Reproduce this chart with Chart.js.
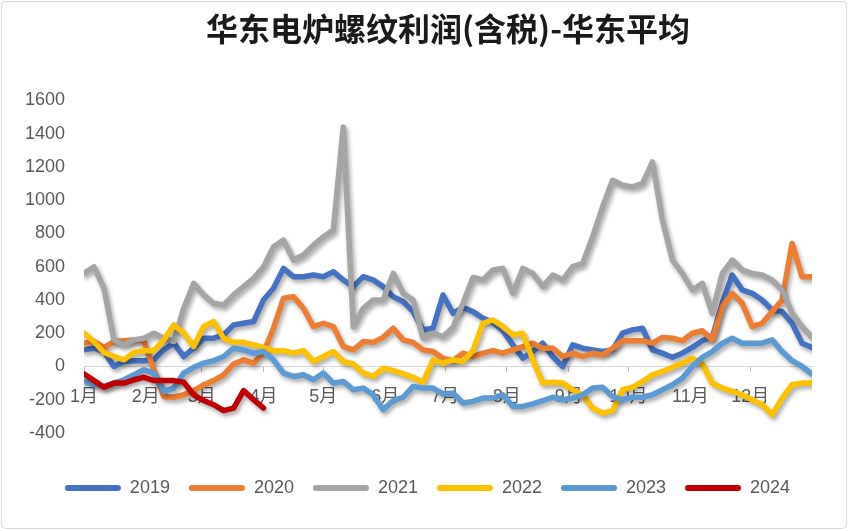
<!DOCTYPE html>
<html>
<head>
<meta charset="utf-8">
<script src="https://cdn.jsdelivr.net/npm/chart.js@4.4.1/dist/chart.umd.min.js"></script>
<style>
html,body{margin:0;padding:0;background:#fff;}
#wrap{width:849px;height:531px;}
</style>
</head>
<body>
<div id="wrap"><canvas id="c" width="849" height="531"></canvas></div>
<script>
const titleText = '华东电炉螺纹利润(含税)-华东平均';
const monthDays = [1, 32, 60, 91, 121, 152, 182, 213, 244, 274, 305, 335];
const monthLabels = ['1月','2月','3月','4月','5月','6月','7月','8月','9月','10月','11月','12月'];
const days = [1,6,11,16,21,26,31,36,41,46,51,56,61,66,71,76,81,86,91,96,101,106,111,116,121,126,131,136,141,146,151,156,161,166,171,176,181,186,191,196,201,206,211,216,221,226,231,236,241,246,251,256,261,266,271,276,281,286,291,296,301,306,311,316,321,326,331,336,341,346,351,356,361,366];
const yTicks = [-400, -200, 0, 200, 400, 600, 800, 1000, 1200, 1400, 1600];

const v2019 = [100,110,90,0,30,35,35,40,100,140,
  60,110,170,170,190,250,260,270,400,470,
  590,540,540,550,540,570,520,480,540,520,
  480,420,390,330,220,230,430,320,355,330,
  290,265,215,130,50,90,140,60,0,130,
  110,100,90,100,200,220,230,100,80,55,
  80,115,155,175,380,550,460,440,400,340,
  330,260,140,115];
const v2020 = [140,150,115,150,155,160,155,-20,-180,-185,
  -170,-145,-110,-85,-50,15,40,20,85,230,
  410,420,350,240,260,240,120,100,150,145,
  175,230,160,145,100,90,50,35,80,60,
  80,95,80,100,120,140,110,110,60,80,
  60,80,70,110,155,155,155,140,175,170,
  155,200,215,160,360,440,380,240,260,330,
  400,740,540,540];
const v2021 = [560,600,470,160,130,160,170,200,170,150,
  350,500,430,380,370,430,480,530,600,720,
  760,640,670,730,780,820,1440,240,350,400,
  400,560,440,400,170,200,180,235,380,535,
  520,580,590,440,590,560,480,550,520,600,
  620,780,960,1120,1090,1080,1100,1230,880,640,
  560,460,500,320,560,640,580,560,550,520,
  460,320,240,175];
const v2022 = [200,150,85,60,40,85,95,95,160,250,
  200,120,240,270,170,145,145,130,115,95,
  95,80,95,30,60,90,30,15,-40,-60,
  -10,-25,-45,-65,-95,40,20,40,30,95,
  260,280,240,190,200,40,-100,-95,-100,-140,
  -170,-250,-280,-265,-140,-125,-90,-50,-30,-5,
  20,50,15,-100,-130,-150,-170,-200,-230,-290,
  -190,-110,-100,-100];
const v2023 = [-90,-110,-120,-100,-80,-50,-20,-40,-150,-130,
  -40,-5,20,35,60,110,100,80,90,40,
  -40,-60,-50,-80,-40,-100,-90,-140,-130,-170,
  -260,-205,-185,-120,-130,-130,-165,-160,-220,-210,
  -190,-190,-170,-240,-240,-225,-205,-185,-200,-190,
  -170,-130,-125,-180,-200,-185,-185,-170,-140,-110,
  -70,0,55,90,140,170,140,140,140,160,
  90,35,0,-45];
const v2024 = [-45,-85,-125,-100,-100,-80,-65,-85,-85,-85,
  -95,-170,-205,-230,-265,-250,-145,-200,-250];

const seriesNames = ['2019','2020','2021','2022','2023','2024'];
const seriesValues = [v2019, v2020, v2021, v2022, v2023, v2024];
const seriesColors = ['#4472C4','#ED7D31','#A5A5A5','#FFC000','#5B9BD5','#C00000'];

const labelFont = {family: "'Liberation Sans', 'Noto Sans CJK SC', sans-serif", size: 18};
const textColor = '#595959';

// Excel draws later series on top; Chart.js draws dataset 0 last -> reverse
const datasets = seriesNames.map((name, k) => ({
  label: name,
  data: seriesValues[k].map((v, i) => ({x: days[i], y: v})),
  xAxisID: 'x',
  yAxisID: 'y',
  borderColor: seriesColors[k],
  backgroundColor: seriesColors[k],
  borderWidth: 5.5,
  pointRadius: 0,
  pointHoverRadius: 0,
  tension: 0,
  fill: false,
  borderJoinStyle: 'round',
  borderCapStyle: 'round'
})).reverse();

const framePlugin = {
  id: 'frame',
  beforeDraw(chart) {
    const c = chart.ctx;
    c.save();
    c.fillStyle = '#ffffff';
    c.fillRect(0, 0, chart.width, chart.height);
    c.strokeStyle = '#d9d9d9';
    c.lineWidth = 1;
    c.beginPath();
    c.roundRect(1.5, 1.5, chart.width - 4, chart.height - 4, 4);
    c.stroke();
    c.restore();
  }
};
const shadowPlugin = {
  id: 'lineShadow',
  beforeDatasetDraw(chart) {
    const c = chart.ctx;
    c.save();
    c.shadowColor = 'rgba(0,0,0,0.35)';
    c.shadowBlur = 4;
    c.shadowOffsetX = 2;
    c.shadowOffsetY = 3;
  },
  afterDatasetDraw(chart) {
    chart.ctx.restore();
  }
};

const spacer = (axis, position, size) => ({
  type: 'linear',
  axis,
  position,
  display: true,
  afterFit(scale) { if (axis === 'x') scale.height = size; else scale.width = size; },
  ticks: {display: false},
  grid: {display: false, drawTicks: false},
  border: {display: false}
});

new Chart(document.getElementById('c'), {
  type: 'line',
  data: {datasets},
  plugins: [framePlugin, shadowPlugin],
  options: {
    responsive: false,
    animation: false,
    devicePixelRatio: 1,
    layout: {padding: {left: 25, right: 19, top: 0, bottom: 24}},
    plugins: {
      title: {
        display: true,
        text: titleText,
        fullSize: false,
        color: '#1a1a1a',
        font: {family: "'Noto Sans CJK SC', sans-serif", size: 32, weight: 'bold'},
        padding: {top: 10, bottom: 52}
      },
      legend: {
        position: 'bottom',
        reverse: true,
        labels: {
          boxWidth: 56,
          boxHeight: 6,
          useBorderRadius: true,
          borderRadius: 3,
          padding: 19,
          color: textColor,
          font: labelFont,
          generateLabels(chart) {
            const items = Chart.defaults.plugins.legend.labels.generateLabels(chart);
            items.forEach(it => { it.fillStyle = it.strokeStyle; it.lineWidth = 0; it.borderRadius = 3; });
            return items;
          }
        }
      },
      tooltip: {enabled: false}
    },
    scales: {
      x: {
        type: 'linear',
        min: 1,
        max: 366,
        position: {y: 0},
        afterBuildTicks(scale) { scale.ticks = monthDays.map(d => ({value: d})); },
        ticks: {
          autoSkip: false,
          maxRotation: 0,
          padding: 15,
          color: textColor,
          font: labelFont,
          callback(value, index) { return monthLabels[index]; }
        },
        grid: {drawOnChartArea: false, drawTicks: true, tickLength: 5, color: '#bfbfbf'},
        border: {display: true, color: '#d9d9d9', width: 1}
      },
      y: {
        type: 'linear',
        position: 'left',
        min: -400,
        max: 1600,
        afterFit(scale) { scale.width = 59; },
        afterBuildTicks(scale) { scale.ticks = yTicks.map(v => ({value: v})); },
        ticks: {padding: 19, color: textColor, font: labelFont, callback(value) { return String(value); }},
        grid: {display: false, drawTicks: false},
        border: {display: false}
      },
      xBottomSpace: spacer('x', 'bottom', 27),
      yRightSpace: spacer('y', 'right', 18)
    }
  }
});
</script>
</body>
</html>
